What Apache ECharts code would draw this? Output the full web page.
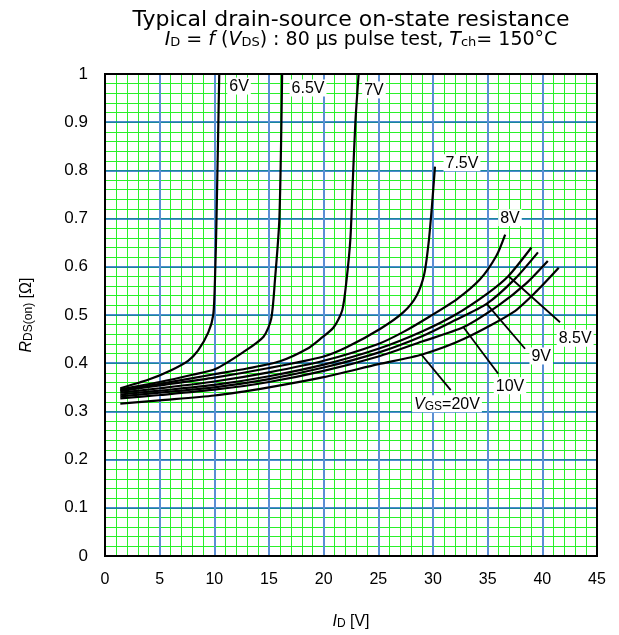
<!DOCTYPE html>
<html>
<head>
<meta charset="utf-8">
<script src="https://cdn.jsdelivr.net/npm/echarts@6/dist/echarts.min.js"></script>
<style>
html,body{margin:0;padding:0;background:#fff;}
#chart{width:619px;height:635px;}
</style>
</head>
<body>
<div id="chart"></div>
<script>
// ---- data (x = ID, y = RDS(on)) ----
const curve6V   = [[1.4,0.348],[4,0.366],[6,0.385],[7.6,0.405],[8.5,0.426],[9.45,0.464],[9.9,0.500],[10.06,0.574],[10.2,0.700],[10.45,1.0]];
const curve6_5V = [[1.4,0.346],[5,0.361],[8,0.376],[10.1,0.388],[12.65,0.423],[14.5,0.455],[15.2,0.492],[15.55,0.574],[15.95,0.700],[16.2,1.0]];
const curve7V   = [[1.4,0.344],[5,0.357],[10,0.377],[13,0.389],[16,0.404],[18.5,0.430],[19.67,0.450],[20.9,0.474],[21.7,0.510],[22.1,0.574],[22.45,0.660],[22.65,0.770],[22.9,0.900],[23.2,1.0]];
const curve7_5V = [[1.4,0.342],[5,0.354],[10,0.370],[15,0.390],[20,0.414],[22.1,0.433],[25.15,0.471],[27.3,0.506],[28.5,0.540],[29.2,0.585],[29.6,0.650],[29.9,0.725],[30.18,0.808]];
const curve8V   = [[1.4,0.339],[5,0.348],[10,0.362],[15,0.381],[20,0.405],[25,0.440],[27.3,0.465],[29.7,0.497],[32.2,0.533],[34.3,0.574],[35.8,0.623],[36.6,0.667]];
const curve8_5V = [[1.4,0.335],[5,0.343],[10,0.355],[15,0.373],[20,0.397],[25,0.430],[29,0.466],[32,0.500],[35,0.545],[36.9,0.581],[39.0,0.640]];
const curve9V   = [[1.4,0.331],[5,0.339],[10,0.350],[15,0.367],[20,0.391],[25,0.422],[29,0.456],[32,0.489],[34.9,0.523],[37.5,0.575],[39.6,0.630]];
const curve10V  = [[1.4,0.327],[5,0.334],[10,0.345],[15,0.361],[20,0.384],[25,0.414],[29,0.445],[32.8,0.475],[36,0.520],[38.5,0.565],[40.5,0.612]];
const curve20V  = [[1.4,0.316],[5,0.323],[10,0.333],[15,0.350],[20,0.371],[25,0.398],[29,0.418],[32.8,0.450],[37.35,0.506],[39.5,0.550],[41.5,0.598]];

const curveNames = ['6V','6.5V','7V','7.5V','8V','8.5V','9V','10V','20V'];
const curves = [curve6V,curve6_5V,curve7V,curve7_5V,curve8V,curve8_5V,curve9V,curve10V,curve20V];

// leader lines for the bundle labels
const leader8_5V = [[36.89,0.581],[41.62,0.485]];
const leader9V   = [[34.91,0.523],[38.42,0.430]];
const leader10V  = [[32.77,0.475],[35.97,0.378]];
const leader20V  = [[28.97,0.417],[31.62,0.344]];
const leaders = [leader8_5V, leader9V, leader10V, leader20V];

// curve labels: text and anchor (data units)
const labelTexts = ['6V','6.5V','7V','7.5V','8V','8.5V','9V','10V','{i|V}{s|GS}=20V'];
const labelAnchors = [[12.26,0.975],[18.57,0.971],[24.6,0.967],[32.65,0.816],[37.04,0.702],[43.0,0.452],[39.9,0.415],[37.04,0.353],[31.28,0.316]];

// axis ticks
const xMin = 0, xMax = 45, xStep = 5, xMinorStep = 1;
const yMin = 0, yMax = 1, yStep = 0.1, yMinorStep = 0.02;

const FONT = 'Liberation Sans, Arial, sans-serif';
const TFONT = 'DejaVu Sans, Verdana, sans-serif';

const chart = echarts.init(document.getElementById('chart'), null, {renderer:'canvas'});

const series = [];
curves.forEach((c, i) => {
  series.push({
    name: curveNames[i], type: 'line', data: c,
    showSymbol: false, symbol: 'none', smooth: 0.25, z: 5,
    lineStyle: {color: '#000', width: 2.2}, silent: true, animation: false
  });
});
leaders.forEach((l) => {
  series.push({
    type: 'line', data: l, showSymbol: false, symbol: 'none', z: 6,
    lineStyle: {color: '#000', width: 1.8}, silent: true, animation: false
  });
});
series.push({
  type: 'scatter', z: 10, symbolSize: 1, itemStyle: {color: 'transparent', opacity: 1}, animation: false, silent: true,
  data: labelTexts.map((t, i) => ({name: t, value: labelAnchors[i]})),
  label: {
    show: true, position: 'inside', formatter: p => p.name, opacity: 1,
    color: '#000', fontSize: 16, fontFamily: FONT,
    backgroundColor: '#fff', padding: [1, 2, 0, 2],
    rich: {
      i: {fontStyle: 'italic', fontSize: 16, fontFamily: FONT, color:'#000'},
      s: {fontSize: 12, fontFamily: FONT, color:'#000', verticalAlign: 'bottom', padding:[3,0,0,0]}
    }
  }
});

const nameRich = {i:{fontStyle:'italic', fontSize:16, fontFamily: FONT, color:'#000'}, s:{fontSize:12, fontFamily: FONT, color:'#000', verticalAlign:'bottom', padding:[3,0,0,0]}};
const GREEN = '#2af02a';

const option = {
  backgroundColor: '#fff',
  animation: false,
  grid: {left: 105, top: 74, width: 492, height: 484, containLabel: false, show: false},
  xAxis: [{
    type: 'value', min: xMin, max: xMax, interval: xStep, z: 1,
    axisLine: {show: false},
    axisTick: {show: false},
    axisLabel: {color: '#000', fontSize: 16, fontFamily: FONT, margin: 16},
    splitLine: {show: true, lineStyle: {color: '#5b8fd4', width: 2, opacity: 1}},
    name: '{i|I}{s|D} [V]', nameLocation: 'middle', nameGap: 58,
    nameTextStyle: {color:'#000', fontSize: 16, fontFamily: FONT, rich: nameRich}
  }, {
    type: 'value', min: xMin, max: xMax, interval: xMinorStep, position: 'top', z: 0,
    axisLine: {show: false}, axisTick: {show: false}, axisLabel: {show: false},
    splitLine: {show: true, lineStyle: {color: GREEN, width: 1, opacity: 1}}
  }],
  yAxis: [{
    type: 'value', min: yMin, max: yMax, interval: yStep, z: 1,
    axisLine: {show: false},
    axisTick: {show: false},
    axisLabel: {color: '#000', fontSize: 17, fontFamily: FONT, margin: 17},
    splitLine: {show: true, lineStyle: {color: '#1565c0', width: 1.6, opacity: 1}},
    name: '{i|R}{s|DS(on)} [Ω]', nameLocation: 'middle', nameGap: 70, nameRotate: 90,
    nameTextStyle: {color:'#000', fontSize: 16, fontFamily: FONT, rich: nameRich}
  }, {
    type: 'value', min: yMin, max: yMax, interval: yMinorStep, position: 'right', z: 0,
    axisLine: {show: false}, axisTick: {show: false}, axisLabel: {show: false},
    splitLine: {show: true, lineStyle: {color: GREEN, width: 1, opacity: 1}}
  }],
  graphic: [{
    type: 'text', x: 351, y: 20, z: 20,
    style: {text: 'Typical drain-source on-state resistance', fill: '#000', font: '22px ' + TFONT, align: 'center', verticalAlign: 'middle'}
  }, {
    type: 'text', x: 361, y: 40, z: 20,
    style: {
      text: '{i|I}{s|D} = {i|f} ({i|V}{s|DS}) : 80 µs pulse test, {i|T}{s|ch}= 150°C',
      fill: '#000', fontSize: 19, fontFamily: TFONT, align: 'center', verticalAlign: 'middle',
      rich: {
        i: {fontStyle: 'italic', fontSize: 19, fontFamily: TFONT, fill: '#000'},
        s: {fontSize: 13, fontFamily: TFONT, fill: '#000', verticalAlign: 'bottom', padding:[4,0,0,0]}
      }
    }
  }],
  series: series
};
chart.setOption(option);

// plot frame drawn from the grid's own extent
const p0 = chart.convertToPixel({gridIndex: 0}, [xMin, yMin]);
const p1 = chart.convertToPixel({gridIndex: 0}, [xMax, yMax]);
option.graphic.push({
  type: 'rect', z: 30, silent: true,
  shape: {x: p0[0], y: p1[1], width: p1[0] - p0[0], height: p0[1] - p1[1]},
  style: {fill: 'none', stroke: '#000', lineWidth: 2}
});
chart.setOption({graphic: option.graphic});
</script>
</body>
</html>
